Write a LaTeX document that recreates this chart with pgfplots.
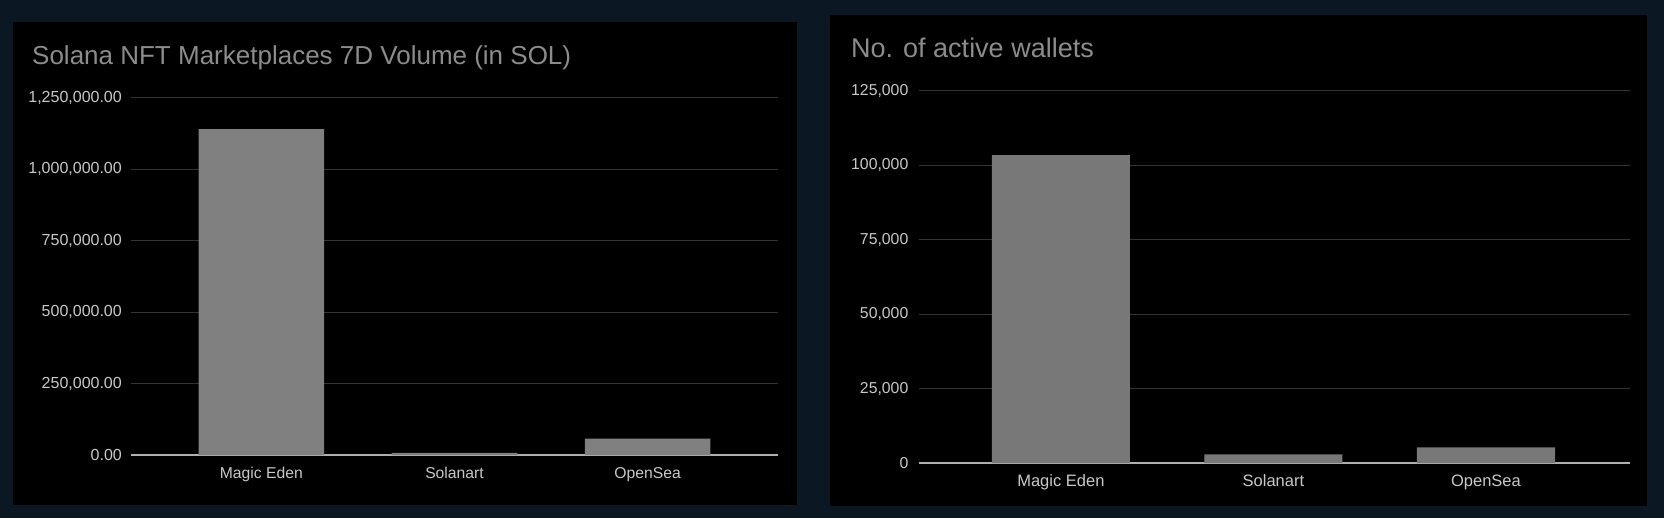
\documentclass[border=0pt]{standalone}
\usepackage{fontspec}
\setmainfont{Liberation Sans}
\usepackage{pgfplots}
\pgfplotsset{compat=1.18}
\definecolor{bgnavy}{RGB}{11,24,36}
\definecolor{bargray}{RGB}{128,128,128}
\definecolor{bargrayb}{RGB}{120,120,120}
\definecolor{gridgray}{RGB}{52,52,52}
\definecolor{basegray}{RGB}{175,175,175}
\definecolor{ticktext}{RGB}{200,200,200}
\definecolor{titletext}{RGB}{140,140,140}
\begin{document}
\begin{tikzpicture}
\useasboundingbox (0,0) rectangle (1664bp,518bp);
\fill[bgnavy] (0,0) rectangle (1664bp,518bp);
\fill[black] (13bp,13bp) rectangle (797bp,495.7bp);
\fill[black] (830bp,12bp) rectangle (1647.3bp,503bp);
\node[anchor=base west, inner sep=0, text=titletext, font=\fontsize{26bp}{31bp}\selectfont] at (32bp,453bp) {Solana NFT Marketplaces 7D Volume (in SOL)};
\node[anchor=base west, inner sep=0, text=titletext, font=\fontsize{27bp}{32bp}\selectfont] at (851bp,460.7bp) {No. of active wallets};

\begin{axis}[
  at={(131bp,63bp)}, anchor=south west,
  scale only axis, width=647bp, height=357.3bp,
  xmin=-0.675, xmax=2.675, ymin=0, ymax=1250000,
  scaled y ticks=false,
  axis x line*=bottom, axis y line*=left,
  x axis line style={draw=basegray, line width=1.4bp, -},
  y axis line style={draw=none},
  major tick length=0,
  xtick=data, xticklabels={Magic Eden, Solanart, OpenSea},
  xticklabel style={anchor=base, inner sep=0, yshift=-23bp, text=ticktext, font=\fontsize{15.7bp}{18bp}\selectfont},
  ytick={0,250000,500000,750000,1000000,1250000},
  yticklabels={{0.00},{250,000.00},{500,000.00},{750,000.00},{1,000,000.00},{1,250,000.00}},
  yticklabel style={anchor=east, inner sep=0, xshift=-9bp, text=ticktext, font=\fontsize{16bp}{18bp}\selectfont},
  ymajorgrids, grid style={draw=gridgray, line width=1bp},
  clip=false,
]
\addplot[ybar, fill=bargray, draw=none, bar width=0.65] coordinates {(0,1140000) (1,7000) (2,57000)};
\end{axis}

\begin{axis}[
  at={(918.5bp,55bp)}, anchor=south west,
  scale only axis, width=711.5bp, height=372.3bp,
  xmin=-0.67, xmax=2.678, ymin=0, ymax=125000,
  scaled y ticks=false,
  axis x line*=bottom, axis y line*=left,
  x axis line style={draw=basegray, line width=1.4bp, -},
  y axis line style={draw=none},
  major tick length=0,
  xtick=data, xticklabels={Magic Eden, Solanart, OpenSea},
  xticklabel style={anchor=base, inner sep=0, yshift=-23.7bp, text=ticktext, font=\fontsize{16.5bp}{19bp}\selectfont},
  ytick={0,25000,50000,75000,100000,125000},
  yticklabels={{0},{25,000},{50,000},{75,000},{100,000},{125,000}},
  yticklabel style={anchor=east, inner sep=0, xshift=-10bp, text=ticktext, font=\fontsize{15.8bp}{18bp}\selectfont},
  ymajorgrids, grid style={draw=gridgray, line width=1bp},
  clip=false,
]
\addplot[ybar, fill=bargrayb, draw=none, bar width=0.65] coordinates {(0,103400) (1,2900) (2,5270)};
\end{axis}
\end{tikzpicture}
\end{document}
